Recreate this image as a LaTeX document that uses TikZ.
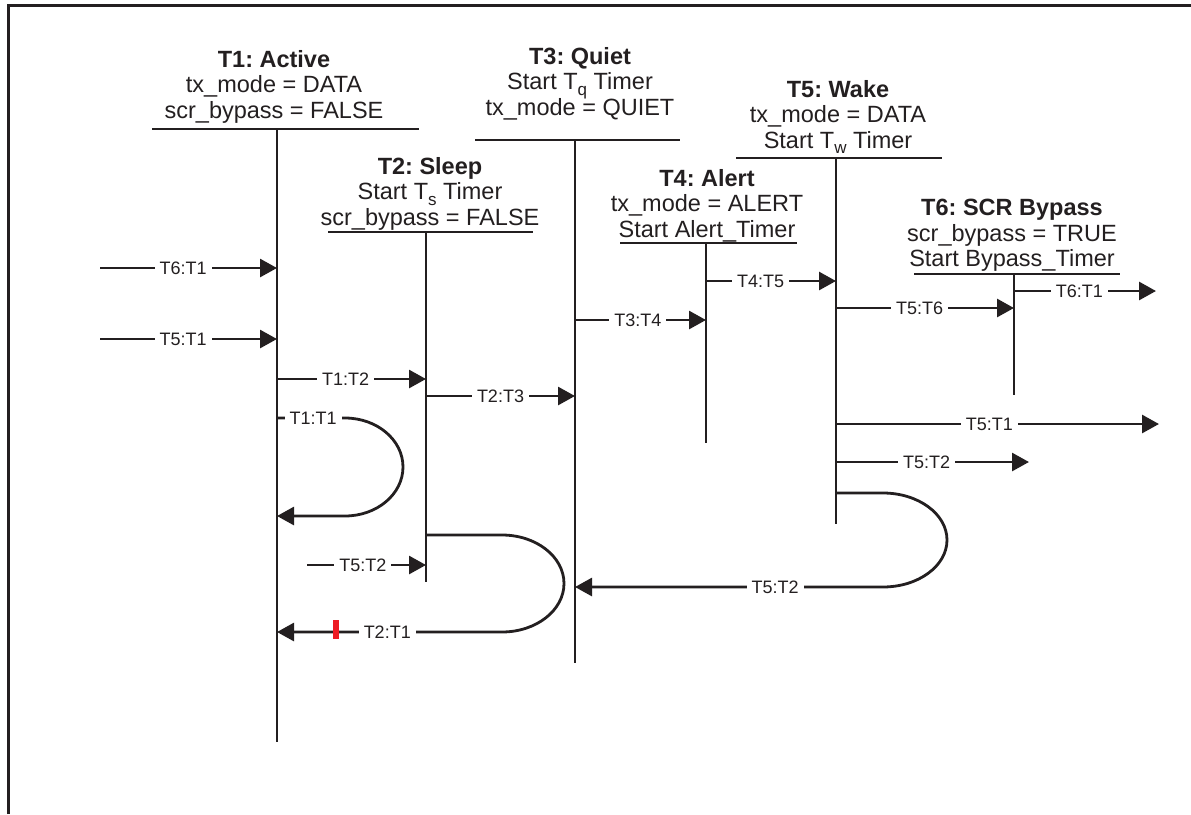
\documentclass[tikz,border=0pt]{standalone}
\usepackage{fontspec}
\setmainfont{Liberation Sans}
\usepackage{xcolor}
\usetikzlibrary{arrows.meta}
\definecolor{lineColor}{RGB}{35, 31, 32}
\definecolor{tickColor}{RGB}{237, 28, 36}
\newcommand{\lowsub}[1]{\raisebox{-5.5pt}[0pt][0pt]{\fontsize{17}{17}\selectfont #1}}

\tikzset{
  stateHead/.style={align=center, anchor=north, inner sep=0pt, text=lineColor,
    font=\fontsize{23.5}{25.5}\selectfont\frenchspacing},
  lifeLine/.style={line width=2.8pt, draw=lineColor},
  msgArrow/.style={line width=2.8pt, draw=lineColor,
    -{Triangle[length=17pt, width=18pt]}},
  msgLabel/.style={fill=white, inner xsep=5pt, inner ysep=2pt, text=lineColor,
    font=\fontsize{18}{18}\selectfont}
}

\begin{document}
\begin{tikzpicture}[x=1pt, y=-1pt]
  \useasboundingbox (0,0) rectangle (1191,814);

  % Frame
  \draw[line width=3pt, lineColor] (8,814) -- (8,5) -- (1191,5);

  % State headers
  \node[stateHead] (t1) at (274,50) {\textbf{T1: Active}\\tx\_mode = DATA\\scr\_bypass = FALSE};
  \node[stateHead] (t2) at (430,157) {\textbf{T2: Sleep}\\Start T\lowsub{s} Timer\\scr\_bypass = FALSE};
  \node[stateHead] (t3) at (580,47) {\textbf{T3: Quiet}\\Start T\lowsub{q} Timer\\tx\_mode = QUIET};
  \node[stateHead] (t4) at (707,169) {\textbf{T4: Alert}\\tx\_mode = ALERT\\Start Alert\_Timer};
  \node[stateHead] (t5) at (838,80) {\textbf{T5: Wake}\\tx\_mode = DATA\\Start T\lowsub{w} Timer};
  \node[stateHead] (t6) at (1012,199) {\textbf{T6: SCR Bypass}\\scr\_bypass = TRUE\\Start Bypass\_Timer};

  % Underlines and lifelines
  \foreach \name/\x/\top/\bot/\ul/\ur in {l1/277/129/742/152/419, l2/426/232/582/328/533,
      l3/575/140/663/475/680, l4/706/243/443/620/797, l5/836/158/524/736/942,
      l6/1014/274/395/914/1120} {
    \draw[lifeLine] (\ul,\top) -- (\ur,\top);
    \draw[lifeLine] (\x,\top) coordinate (\name) -- (\x,\bot);
  }

  % Transitions into T1 from outside
  \draw[msgArrow] (100,268) coordinate (in61) -- node[msgLabel, pos=0.47] {T6:T1} (in61 -| l1);
  \draw[msgArrow] (100,339) coordinate (in51) -- node[msgLabel, pos=0.47] {T5:T1} (in51 -| l1);

  % Transitions between lifelines
  \draw[msgArrow] (l1 |- 0,379) -- node[msgLabel, pos=0.46] {T1:T2} (l2 |- 0,379);
  \draw[msgArrow] (l2 |- 0,396) -- node[msgLabel, pos=0.50] {T2:T3} (l3 |- 0,396);
  \draw[msgArrow] (l3 |- 0,320) -- node[msgLabel, pos=0.48] {T3:T4} (l4 |- 0,320);
  \draw[msgArrow] (l4 |- 0,281) -- node[msgLabel, pos=0.42] {T4:T5} (l5 |- 0,281);
  \draw[msgArrow] (l5 |- 0,308) -- node[msgLabel, pos=0.47] {T5:T6} (l6 |- 0,308);
  \draw[msgArrow] (307,565) coordinate (in52) -- node[msgLabel, pos=0.47] {T5:T2} (in52 -| l2);

  % Transitions leaving to the right
  \draw[msgArrow] (l6 |- 0,291) -- node[msgLabel, pos=0.46] {T6:T1} (1156,291) coordinate (out61);
  \draw[msgArrow] (l5 |- 0,424) -- node[msgLabel, pos=0.475] {T5:T1} (1159,424) coordinate (out51);
  \draw[msgArrow] (l5 |- 0,462) -- node[msgLabel, pos=0.47] {T5:T2} (1029,462) coordinate (out52);

  % Loops back
  \draw[msgArrow] (l1 |- 0,418) -- node[msgLabel, pos=0.53] {T1:T1} (345,418)
    arc[start angle=90, end angle=-90, x radius=58pt, y radius=49pt] -- (l1 |- 0,516);
  \draw[msgArrow] (l2 |- 0,535) -- (502,535)
    arc[start angle=90, end angle=-90, x radius=62pt, y radius=48.5pt]
    -- node[msgLabel, pos=0.51] {T2:T1} (l1 |- 0,632);
  \draw[msgArrow] (l5 |- 0,493) -- (883,493)
    arc[start angle=90, end angle=-90, x radius=64pt, y radius=47pt]
    -- node[msgLabel, pos=0.35] {T5:T2} (l3 |- 0,587);

  % Red tick
  \fill[tickColor] (333,620) rectangle (339,639);
\end{tikzpicture}
\end{document}
